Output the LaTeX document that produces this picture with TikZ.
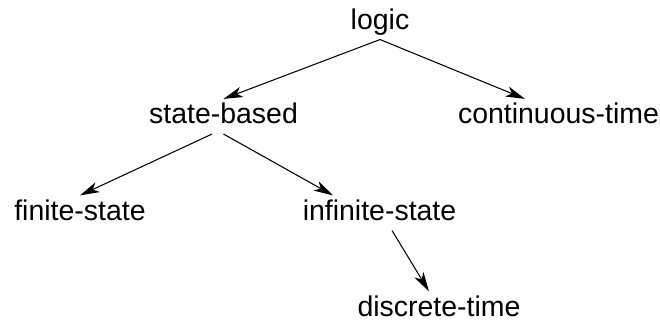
\documentclass[tikz,border=0pt]{standalone}
\usepackage{fontspec}
\setmainfont{Liberation Sans}
\usetikzlibrary{arrows.meta}

\begin{document}
\begin{tikzpicture}[tnode/.style={font=\fontsize{16.2}{19}\selectfont,inner sep=0pt,outer sep=2pt,
    text height=12pt,text depth=4pt,anchor=base},
  arr/.style={-{Stealth[length=11pt,width=6pt,inset=3pt]},line width=0.6pt}]
\useasboundingbox (0,0) rectangle (13.2,6.4);
  \foreach \nm/\x/\y/\txt in {logic/7.6/5.82/logic,state/4.47/3.93/state-based,
    cont/11.17/3.93/continuous-time,finite/1.6/2.0/finite-state,
    infinite/7.59/2.0/infinite-state,discrete/8.78/0.08/discrete-time}
  {  \node [tnode] (\nm) at (\x,\y) {\txt};}
\draw [arr] (logic.south) -- (state.north);
\draw [arr] (logic.south) -- ([xshift=-0.67cm]cont.north);
\draw [arr] ([xshift=-0.23cm]state.south) -- (finite.north);
\draw [arr] (state.south) -- ([xshift=-0.93cm]infinite.north);
\draw [arr] ([xshift=0.25cm]infinite.south) -- ([xshift=-0.2cm]discrete.north);
\end{tikzpicture}
\end{document}
